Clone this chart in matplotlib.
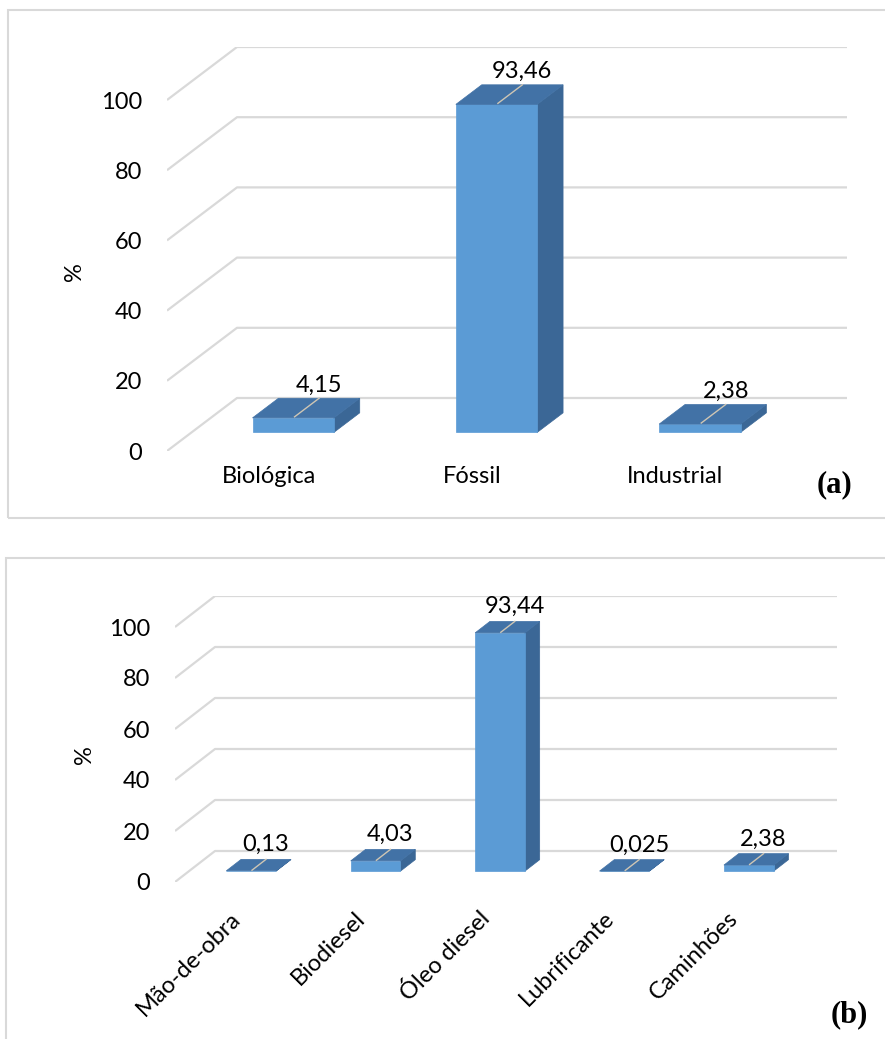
import matplotlib
matplotlib.use("Agg")
import matplotlib.pyplot as plt
from matplotlib.patches import Polygon, Rectangle
import numpy as np

plt.rcParams['font.family'] = ['Lato', 'DejaVu Sans']

# (a) origem das emissões
cat_a = ['Biológica', 'Fóssil', 'Industrial']
val_a = [4.15, 93.46, 2.38]

# (b) por insumo
cat_b = ['Mão-de-obra', 'Biodiesel', 'Óleo diesel', 'Lubrificante', 'Caminhões']
val_b = [0.13, 4.03, 93.44, 0.025, 2.38]

yticks = [0, 20, 40, 60, 80, 100]

W, H = 885, 1039
fig = plt.figure(figsize=(W / 100, H / 100), dpi=100)
fig.patch.set_facecolor('white')

c_front = '#5b9bd5'
c_top = '#4272a6'
c_side = '#3b6796'
c_grid = '#d9d9d9'
c_lead = '#cfc6b4'
FS = 17


def px_axes(x0, y0, x1, y1):
    return fig.add_axes([x0 / W, 1 - y1 / H, (x1 - x0) / W, (y1 - y0) / H])


def fmt(v):
    return str(v).replace('.', ',')


def panel(ax, cats, vals, depth_px, box_px, rot=0, lab_off=3, xpad=12):
    n = len(cats)
    x0p, y0p, x1p, y1p = box_px
    cat_px = (x1p - x0p - depth_px[0]) / n
    val_px = (y1p - y0p - depth_px[1]) / 100
    ddx = depth_px[0] / cat_px
    ddy = depth_px[1] / val_px
    ax.set_xlim(0, n + ddx)
    ax.set_ylim(0, 100 + ddy)

    def P(x, y, z):
        return (x + z * ddx, y + z * ddy)

    # parede de fundo + lateral
    for t in yticks:
        pts = [P(0, t, 0), P(0, t, 1), P(n, t, 1)]
        ax.plot([p[0] for p in pts], [p[1] for p in pts], color=c_grid, lw=1.6,
                zorder=1, solid_capstyle='butt')

    z0, z1 = 0.35, 0.72
    for i, v in enumerate(vals):
        xc = i + 0.5
        xa, xb = xc - 0.2, xc + 0.2
        front = [P(xa, 0, z0), P(xb, 0, z0), P(xb, v, z0), P(xa, v, z0)]
        side = [P(xb, 0, z0), P(xb, 0, z1), P(xb, v, z1), P(xb, v, z0)]
        top = [P(xa, v, z0), P(xb, v, z0), P(xb, v, z1), P(xa, v, z1)]
        for poly, c in ((side, c_side), (front, c_front), (top, c_top)):
            ax.add_patch(Polygon(poly, closed=True, facecolor=c, edgecolor=c,
                                 lw=0.5, zorder=3))
        p1, p2 = P(xc, v, z0 + 0.02), P(xc, v, z1)
        ax.plot([p1[0], p2[0]], [p1[1], p2[1]], color=c_lead, lw=1, zorder=4)
        ax.annotate(fmt(v), xy=P(xc, v, z1), xytext=(0, lab_off),
                    textcoords='offset points', ha='center', va='bottom',
                    fontsize=FS, color='black', zorder=5)

    ax.set_yticks(yticks)
    ax.set_xticks(np.arange(n) + 0.5, cats)
    ax.tick_params(axis='y', length=0, pad=18, labelsize=FS)
    ax.tick_params(axis='x', length=0, pad=xpad, labelsize=FS)
    if rot:
        plt.setp(ax.get_xticklabels(), rotation=rot, ha='right', va='center',
                 rotation_mode='anchor')
    for s in ax.spines.values():
        s.set_visible(False)
    ax.patch.set_visible(False)


ax_a = px_axes(167, 47, 847, 451)
panel(ax_a, cat_a, val_a, (70, 53), (167, 47, 847, 451), lab_off=2, xpad=11)

ax_b = px_axes(175, 596, 837, 882)
panel(ax_b, cat_b, val_b, (40, 31), (175, 596, 837, 882), rot=45, lab_off=3, xpad=24)

fig.text(75 / W, 1 - 272 / H, '%', rotation=90, ha='center', va='center', fontsize=FS)
fig.text(85 / W, 1 - 755 / H, '%', rotation=90, ha='center', va='center', fontsize=FS)

fig.text(835 / W, 1 - 485 / H, '(a)', family='Liberation Serif', weight='bold',
         fontsize=22, ha='center', va='center')
fig.text(849 / W, 1 - 1015 / H, '(b)', family='Liberation Serif', weight='bold',
         fontsize=22, ha='center', va='center')

# molduras
fig.add_artist(Rectangle((8 / W, 1 - 518 / H), (895 - 8) / W, (518 - 10) / H,
                         transform=fig.transFigure, fill=False, ec=c_grid, lw=1.5))
fig.add_artist(Rectangle((6 / W, 1 - 1050 / H), (895 - 6) / W, (1050 - 558) / H,
                         transform=fig.transFigure, fill=False, ec=c_grid, lw=1.5))

fig.savefig('out.png', dpi=100)
